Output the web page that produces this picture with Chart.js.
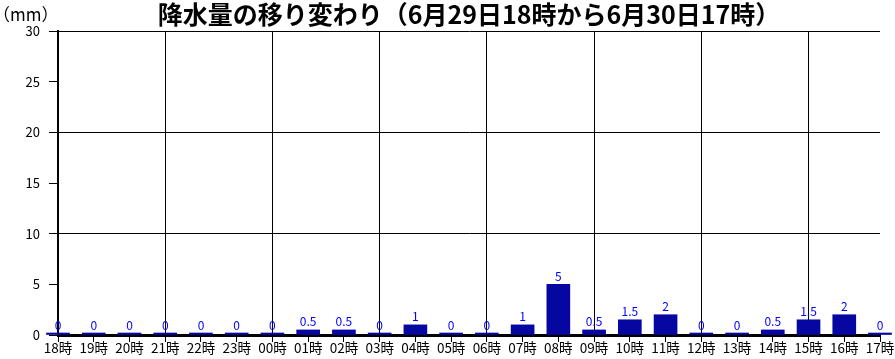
<!DOCTYPE html>
<html><head><meta charset="utf-8">
<script src="https://cdn.jsdelivr.net/npm/chart.js@4/dist/chart.umd.min.js"></script>
<style>html,body{margin:0;padding:0;background:#fff;}#wrap{width:895px;height:359px;position:relative;}</style>
</head><body><div id="wrap"><canvas id="c" width="895" height="359"></canvas></div>
<script>
const categories = ['18時','19時','20時','21時','22時','23時','00時','01時','02時','03時','04時','05時','06時','07時','08時','09時','10時','11時','12時','13時','14時','15時','16時','17時'];
const rainfall = [0,0,0,0,0,0,0,0.5,0.5,0,1,0,0,1,5,0.5,1.5,2,0,0,0.5,1.5,2,0];
const yTicks = [0,5,10,15,20,25,30];
const titleText = '降水量の移り変わり（6月29日18時から6月30日17時）';
const unitText = '（mm）';

const FONT = '"Noto Sans CJK JP", "Noto Sans", sans-serif';

const overlay = {
  id: 'overlay',
  afterDatasetsDraw(chart) {
    const ctx = chart.ctx, meta = chart.getDatasetMeta(0), ca = chart.chartArea;
    ctx.save();
    ctx.fillStyle = '#0000ff';
    ctx.font = '12px ' + FONT;
    ctx.textAlign = 'center';
    ctx.textBaseline = 'bottom';
    meta.data.forEach((bar, i) => {
      ctx.fillText(String(rainfall[i]), bar.x, bar.y - 2);
    });
    ctx.fillStyle = '#000';
    ctx.font = 'bold 25px ' + FONT;
    ctx.textBaseline = 'middle';
    ctx.fillText(titleText, (ca.left + ca.right) / 2, 14);
    ctx.font = '17px ' + FONT;
    ctx.textAlign = 'left';
    ctx.fillText(unitText, -7, 15);
    ctx.restore();
  }
};

new Chart(document.getElementById('c'), {
  type: 'bar',
  data: {
    labels: categories,
    datasets: [{
      data: rainfall,
      backgroundColor: '#0606a0',
      borderWidth: 0,
      barThickness: 23,
      minBarLength: 2,
      clip: false
    }]
  },
  options: {
    responsive: false,
    animation: false,
    devicePixelRatio: 1,
    layout: { padding: { top: 31, right: 15, left: 0, bottom: 0 } },
    plugins: { legend: { display: false }, tooltip: { enabled: false }, title: { display: false } },
    scales: {
      x: {
        offset: false,
        border: { display: true, color: '#000', width: 3 },
        grid: {
          offset: false,
          color: (c) => (c.index % 3 === 0 ? '#000' : 'rgba(0,0,0,0)'),
          tickColor: '#000',
          lineWidth: 1,
          tickLength: 7,
          drawOnChartArea: true
        },
        ticks: { color: '#000', font: { family: FONT, size: 13.5 }, padding: -2, maxRotation: 0, autoSkip: false },
        afterFit(s) { s.height = 24; }
      },
      y: {
        min: 0, max: 30,
        afterBuildTicks(s) { s.ticks = yTicks.map(v => ({ value: v })); },
        border: { display: true, color: '#000', width: 2 },
        grid: {
          color: (c) => (c.tick && c.tick.value % 10 === 0 ? '#000' : 'rgba(0,0,0,0)'),
          tickColor: '#000',
          tickLength: 9,
          lineWidth: 1
        },
        ticks: { color: '#000', font: { family: FONT, size: 13 }, padding: 9 },
        afterFit(s) { s.width = 58; }
      }
    }
  },
  plugins: [overlay]
});
</script>
</body></html>
